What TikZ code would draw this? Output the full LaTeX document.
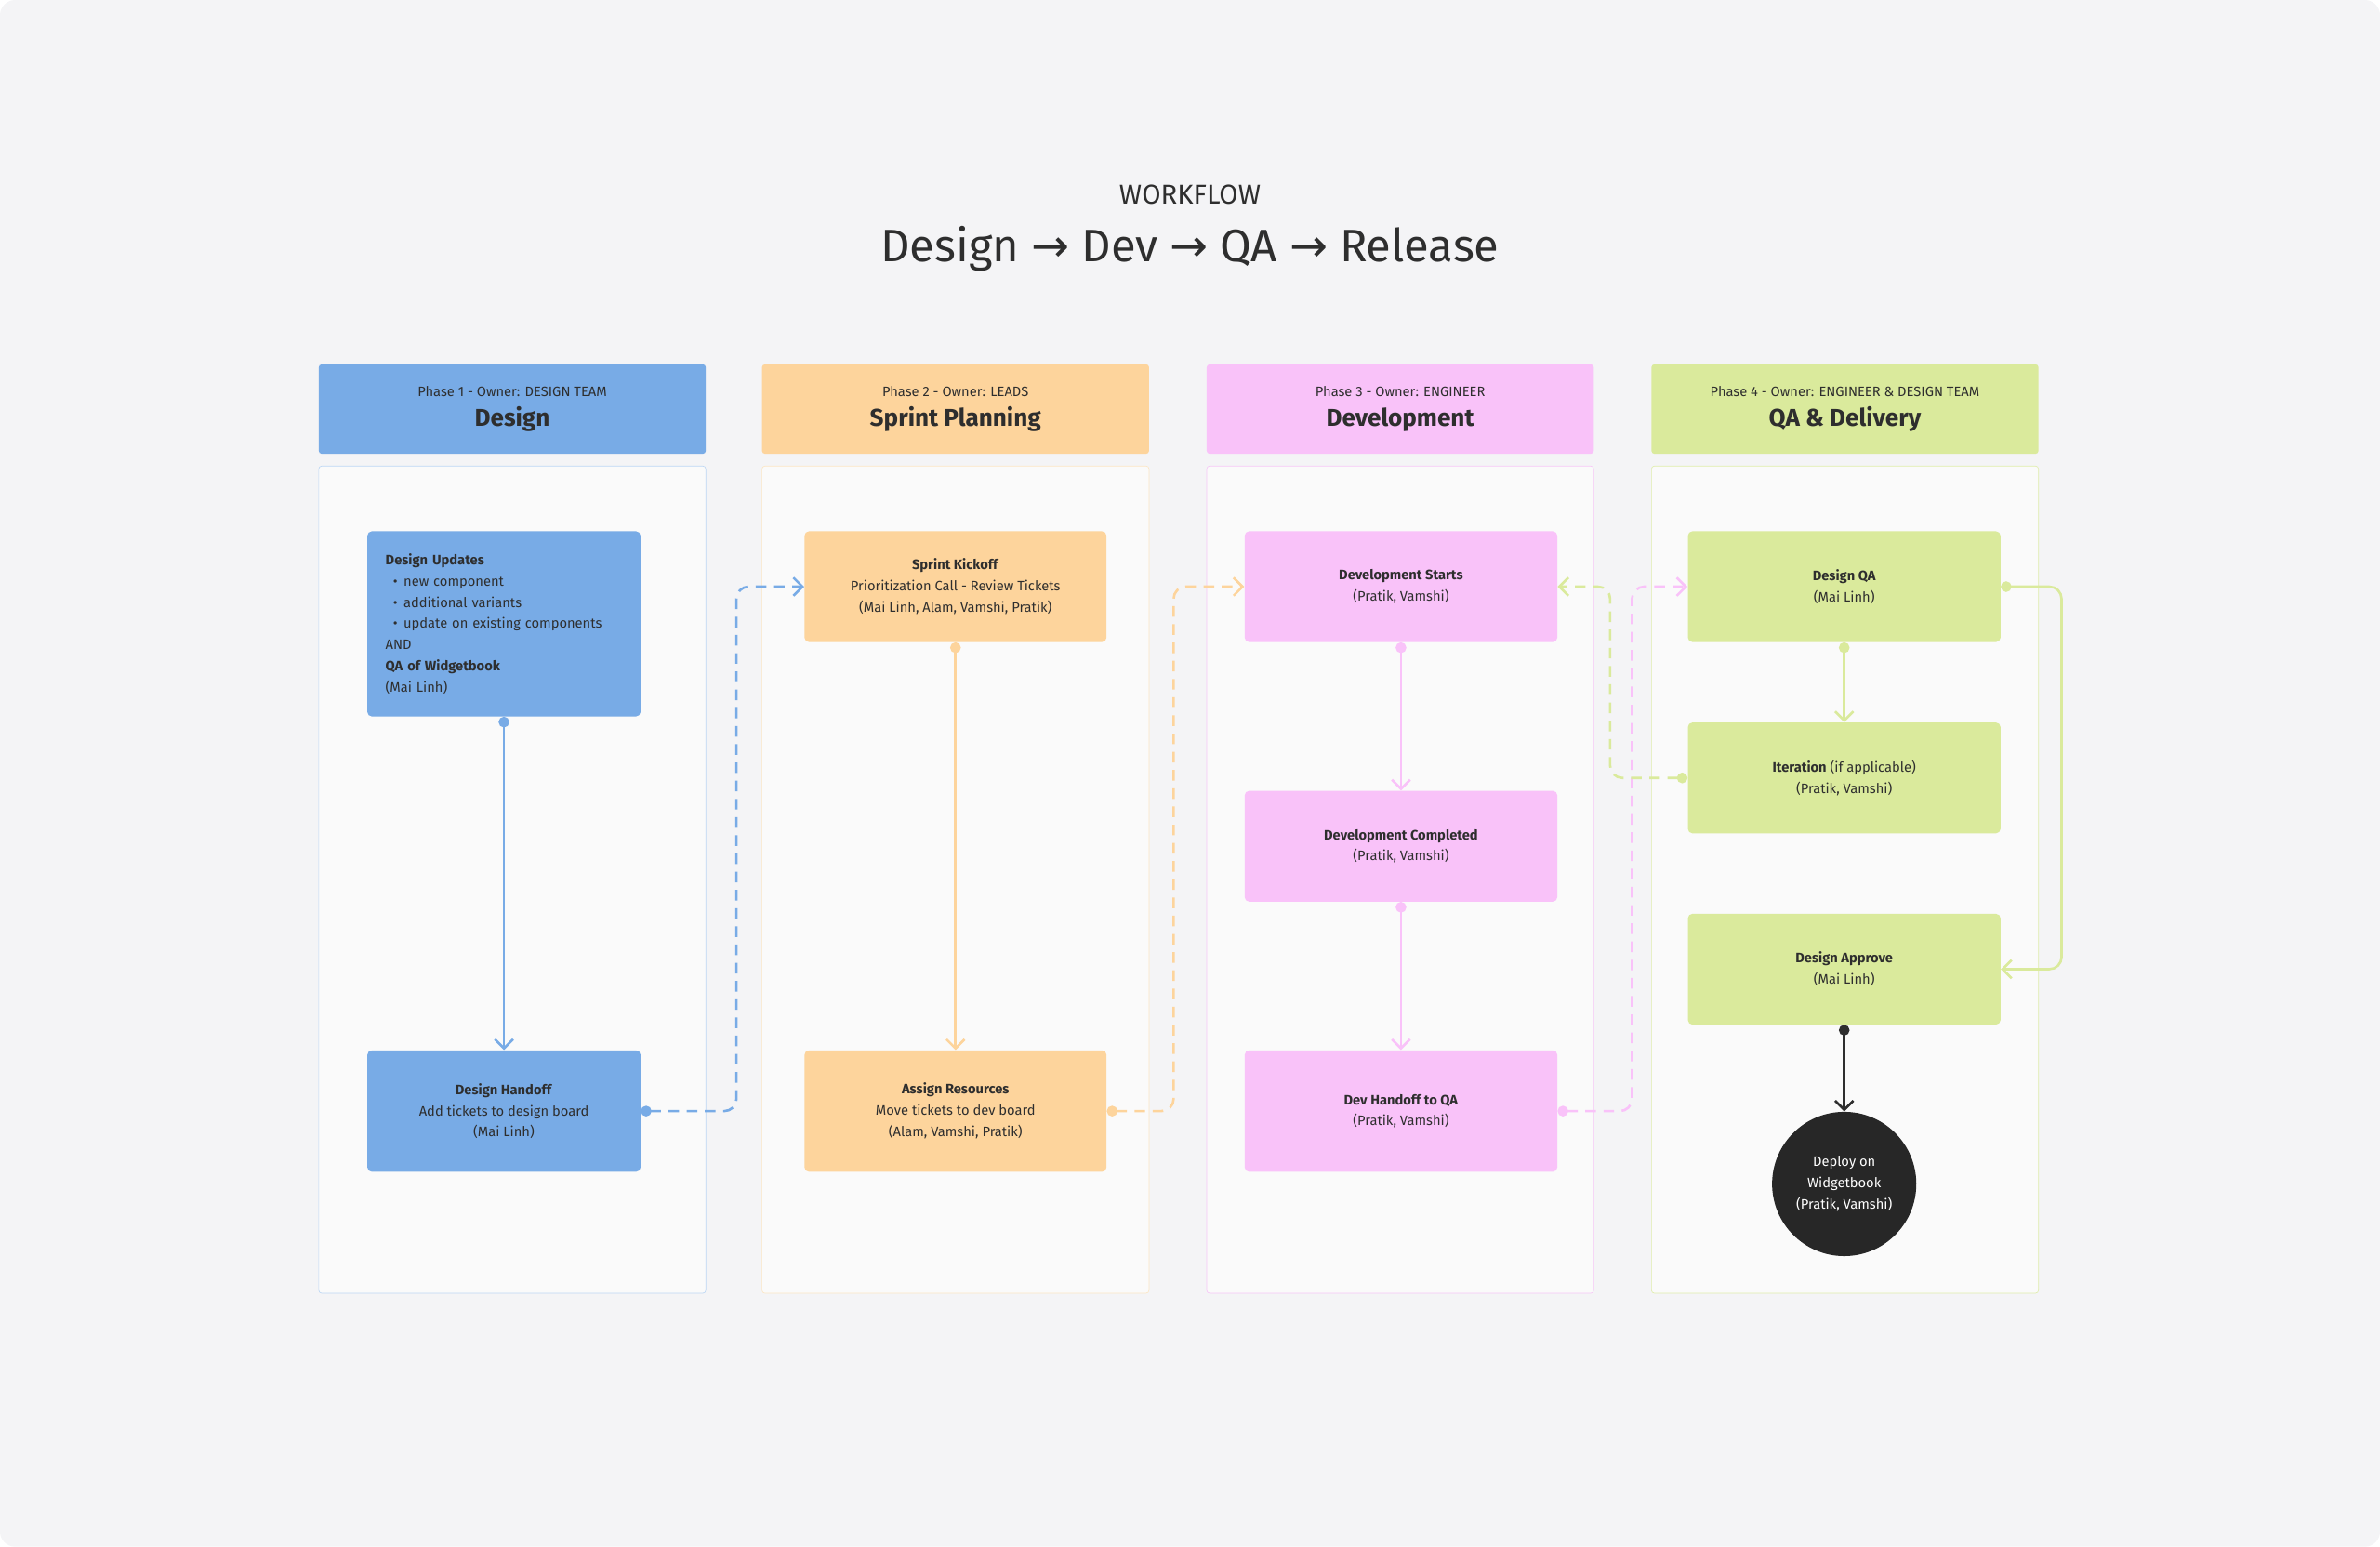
\documentclass[tikz,border=0pt]{standalone}
\usepackage{fontspec}
\setmainfont{Fira Sans}
\newfontfamily\arrowfont{DejaVu Sans}
\usetikzlibrary{arrows.meta}
\definecolor{bg}{HTML}{F4F4F6}
\definecolor{lanebg}{HTML}{FAFAFA}
\definecolor{ink}{HTML}{2E2E2E}
\definecolor{cblue}{HTML}{78ABE6}
\definecolor{corange}{HTML}{FDD49C}
\definecolor{cpink}{HTML}{F9C2F9}
\definecolor{cgreen}{HTML}{DAEA9C}
\definecolor{lblue}{HTML}{BCD6F4}
\definecolor{lorange}{HTML}{FCE6C4}
\definecolor{lpink}{HTML}{F6C6F6}
\definecolor{lgreen}{HTML}{DFEDAA}
\tikzset{
  head/.style={rounded corners=2pt, minimum width=255pt, minimum height=59pt, align=center, text=ink},
  lane/.style={rounded corners=2pt, fill=lanebg, minimum width=255pt, minimum height=545pt},
  task/.style={rounded corners=3pt, minimum width=200pt, minimum height=73pt, align=center,
    text=ink, font=\fontsize{9}{14}\selectfont},
  flow/.style={line width=1.6pt, draw=#1, {Circle[length=7pt]}-{Straight Barb[length=6pt,width=12pt]}},
  dflow/.style={flow=#1, dash pattern=on 7pt off 5pt, rounded corners=8pt},
}
\newcommand{\phasehead}[3]{{\fontsize{9}{11}\selectfont #1}\\[6pt]{\fontsize{16}{18}\selectfont\bfseries #2}}
\begin{document}
\begin{tikzpicture}[x=1pt, y=-1pt]
\useasboundingbox (0,0) rectangle (1568,1019);
\fill[bg, rounded corners=10pt] (0,0) rectangle (1568,1019);
% title
\node[text=ink, font=\fontsize{18}{20}\selectfont] (kicker) at (784,128) {WORKFLOW};
\node[text=ink, font=\fontsize{30}{32}\selectfont] (title) at (784,164)
  {Design {\arrowfont →} Dev {\arrowfont →} QA {\arrowfont →} Release};
% phase headers
\node[head, fill=cblue] (h1) at (337.5,269.5) {\phasehead{Phase 1 - Owner: DESIGN TEAM}{Design}{}};
\node[head, fill=corange] (h2) at (629.5,269.5) {\phasehead{Phase 2 - Owner: LEADS}{Sprint Planning}{}};
\node[head, fill=cpink] (h3) at (922.5,269.5) {\phasehead{Phase 3 - Owner: ENGINEER}{Development}{}};
\node[head, fill=cgreen] (h4) at (1215.5,269.5) {\phasehead{Phase 4 - Owner: ENGINEER \& DESIGN TEAM}{QA \& Delivery}{}};
% lanes
\node[lane, draw=lblue] (l1) at (337.5,579.5) {};
\node[lane, draw=lorange] (l2) at (629.5,579.5) {};
\node[lane, draw=lpink] (l3) at (922.5,579.5) {};
\node[lane, draw=lgreen] (l4) at (1215.5,579.5) {};
% design
\node[task, fill=cblue, minimum width=180pt, minimum height=122pt, align=left, text width=156pt] (upd) at (332,411)
  {\textbf{Design Updates}\\
   \hspace*{5pt}•\hspace{4pt}new component\\
   \hspace*{5pt}•\hspace{4pt}additional variants\\
   \hspace*{5pt}•\hspace{4pt}update on existing components\\
   AND\\
   \textbf{QA of Widgetbook}\\
   (Mai Linh)};
\node[task, fill=cblue, minimum width=180pt, minimum height=80pt] (hand) at (332,732)
  {\textbf{Design Handoff}\\Add tickets to design board\\(Mai Linh)};
% sprint planning
\node[task, fill=corange, minimum width=199pt] (kick) at (629.5,386.5)
  {\textbf{Sprint Kickoff}\\Prioritization Call - Review Tickets\\(Mai Linh, Alam, Vamshi, Pratik)};
\node[task, fill=corange, minimum width=199pt, minimum height=80pt] (assign) at (629.5,732)
  {\textbf{Assign Resources}\\Move tickets to dev board\\(Alam, Vamshi, Pratik)};
% development
\node[task, fill=cpink, minimum width=206pt] (dstart) at (923,386.5)
  {\textbf{Development Starts}\\(Pratik, Vamshi)};
\node[task, fill=cpink, minimum width=206pt] (ddone) at (923,557.5)
  {\textbf{Development Completed}\\(Pratik, Vamshi)};
\node[task, fill=cpink, minimum width=206pt, minimum height=80pt] (dhand) at (923,732)
  {\textbf{Dev Handoff to QA}\\(Pratik, Vamshi)};
% qa & delivery
\node[task, fill=cgreen, minimum width=206pt] (dqa) at (1215,386.5)
  {\textbf{Design QA}\\(Mai Linh)};
\node[task, fill=cgreen, minimum width=206pt] (iter) at (1215,512.5)
  {\textbf{Iteration} (if applicable)\\(Pratik, Vamshi)};
\node[task, fill=cgreen, minimum width=206pt] (appr) at (1215,638.5)
  {\textbf{Design Approve}\\(Mai Linh)};
\node[circle, fill=ink!85!black, text=white, minimum size=95pt, inner sep=0pt, align=center,
  font=\fontsize{9}{14}\selectfont] (deploy) at (1215,780) {Deploy on\\Widgetbook\\(Pratik, Vamshi)};
% connectors
\draw[flow=cblue] (upd.south) -- (hand.north);
\draw[flow=corange] (kick.south) -- (assign.north);
\draw[flow=cpink] (dstart.south) -- (ddone.north);
\draw[flow=cpink] (ddone.south) -- (dhand.north);
\draw[flow=cgreen] (dqa.south) -- (iter.north);
\draw[flow=ink] (appr.south) -- (deploy.north);
\draw[flow=cgreen, rounded corners=8pt] (dqa.east) -- ++(40,0) |- (appr.east);
\draw[dflow=cblue] (hand.east) -- ++(63,0) |- (kick.west);
\draw[dflow=corange] (assign.east) -- ++(44,0) |- (dstart.west);
\draw[dflow=cpink] (dhand.east) -- ++(49,0) |- (dqa.west);
\draw[dflow=cgreen] (iter.west) -- ++(-51,0) |- (dstart.east);
\end{tikzpicture}
\end{document}
